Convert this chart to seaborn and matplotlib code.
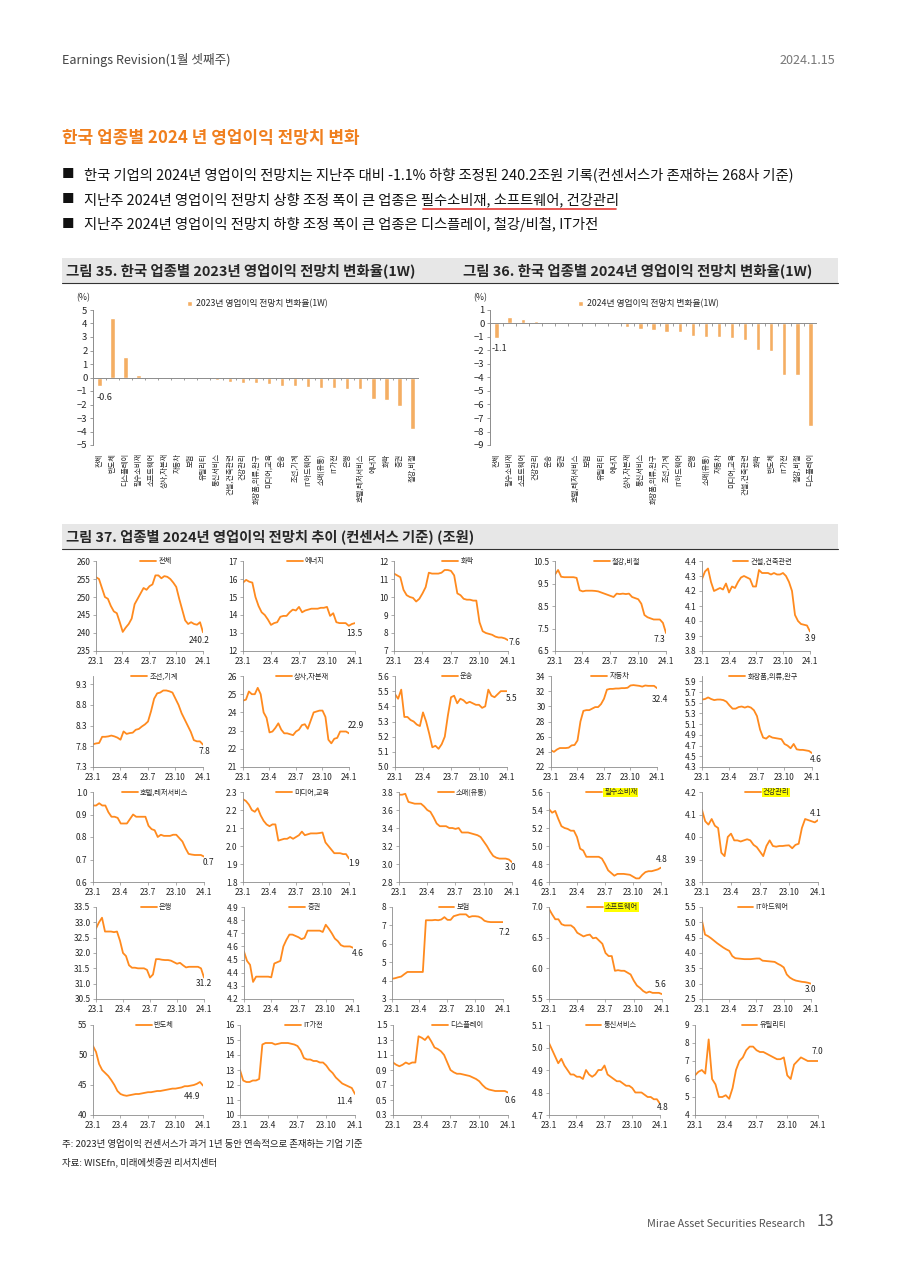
import numpy as np
import pandas as pd
import matplotlib
matplotlib.use("Agg")
import matplotlib.pyplot as plt
import seaborn as sns
from matplotlib.patches import Rectangle
from matplotlib.lines import Line2D

sns.set_theme(style="white")
plt.rcParams["font.family"] = ["Noto Sans CJK KR", "DejaVu Sans"]
plt.rcParams["axes.unicode_minus"] = True

# ----------------------------------------------------------------------
# Data
# ----------------------------------------------------------------------
cats_2023 = ["전체", "반도체", "디스플레이", "필수소비재", "소프트웨어", "상사,자본재", "자동차",
             "보험", "유틸리티", "통신서비스", "건설,건축관련", "건강관리", "화장품,의류,완구",
             "미디어,교육", "운송", "조선,기계", "IT하드웨어", "소매(유통)", "IT가전", "은행",
             "호텔,레저서비스", "에너지", "화학", "증권", "철강,비철"]
chg_2023 = [-0.6, 4.4, 1.5, 0.2, 0.0, 0.0, 0.0, 0.0, 0.0, -0.2, -0.3, -0.4, -0.4,
            -0.45, -0.6, -0.6, -0.7, -0.8, -0.8, -0.85, -0.85, -1.6, -1.7, -2.1, -3.8]

cats_2024 = ["전체", "필수소비재", "소프트웨어", "건강관리", "운송", "증권", "호텔,레저서비스",
             "보험", "유틸리티", "에너지", "상사,자본재", "통신서비스", "화장품,의류,완구",
             "조선,기계", "IT하드웨어", "은행", "소매(유통)", "자동차", "미디어,교육",
             "건설,건축관련", "화학", "반도체", "IT가전", "철강,비철", "디스플레이"]
chg_2024 = [-1.1, 0.45, 0.3, 0.2, 0.0, 0.0, 0.0, 0.0, 0.0, 0.0, -0.25, -0.4, -0.5,
            -0.6, -0.65, -0.9, -1.0, -1.0, -1.05, -1.2, -1.95, -2.05, -3.8, -3.8, -7.6]

# 2024 operating profit consensus (trillion KRW), roughly every 10 days 23.1 -> 24.1
dates = pd.date_range("2023-01-01", "2024-01-01", periods=37)

total = [255.5, 255.0, 252.5, 250.0, 249.5, 247.5, 246.0, 245.5, 243.0, 240.3, 241.5, 242.5, 244.0,
         248.0, 249.5, 251.0, 252.5, 252.0, 253.0, 253.5, 256.0, 256.0, 255.2, 255.8, 255.6, 255.0,
         254.0, 252.8, 249.5, 246.5, 243.5, 242.5, 243.0, 242.5, 242.3, 243.0, 240.2]
energy = [15.8, 15.95, 15.85, 15.8, 15.0, 14.5, 14.15, 14.0, 13.75, 13.45, 13.55, 13.6, 13.9,
          13.95, 13.95, 14.15, 14.3, 14.25, 14.45, 14.15, 14.25, 14.3, 14.35, 14.35, 14.35, 14.4,
          14.4, 14.45, 13.95, 14.1, 13.6, 13.55, 13.55, 13.55, 13.4, 13.5, 13.55]
chemical = [11.3, 11.2, 11.1, 10.4, 10.1, 10.0, 9.95, 9.75, 9.9, 10.2, 10.55, 11.35, 11.3,
            11.3, 11.3, 11.35, 11.5, 11.5, 11.45, 11.2, 10.2, 10.1, 9.9, 9.85, 9.85, 9.8,
            9.8, 8.6, 8.1, 8.0, 7.95, 7.9, 7.8, 7.75, 7.75, 7.7, 7.6]
steel = [9.9, 10.1, 9.8, 9.78, 9.78, 9.78, 9.78, 9.75, 9.2, 9.15, 9.18, 9.18, 9.18,
         9.17, 9.15, 9.1, 9.05, 9.0, 8.95, 8.9, 9.05, 9.03, 9.05, 9.03, 9.05, 8.9,
         8.85, 8.8, 8.6, 8.1, 8.0, 7.95, 7.9, 7.9, 7.9, 7.75, 7.3]
construction = [4.28, 4.33, 4.35, 4.26, 4.2, 4.21, 4.22, 4.21, 4.25, 4.19, 4.23, 4.22, 4.26,
                4.29, 4.3, 4.29, 4.28, 4.23, 4.23, 4.34, 4.32, 4.32, 4.32, 4.31, 4.32, 4.31,
                4.31, 4.32, 4.3, 4.26, 4.2, 4.04, 4.0, 3.98, 3.975, 3.97, 3.93]
shipbuilding = [7.85, 7.87, 7.88, 8.03, 8.03, 8.04, 8.06, 8.04, 8.01, 7.96, 8.16, 8.1, 8.12,
                8.13, 8.2, 8.22, 8.28, 8.33, 8.4, 8.65, 8.95, 9.08, 9.1, 9.15, 9.15, 9.13,
                9.1, 8.95, 8.8, 8.6, 8.45, 8.3, 8.15, 7.95, 7.92, 7.92, 7.84]
trading = [24.65, 24.7, 25.15, 25.0, 25.0, 25.35, 25.0, 24.0, 23.7, 22.9, 22.95, 23.15, 23.4,
           23.05, 22.85, 22.85, 22.8, 22.75, 22.95, 23.05, 23.3, 23.35, 23.1, 23.55, 24.0, 24.05,
           24.1, 24.1, 23.75, 22.5, 22.3, 22.55, 22.6, 22.95, 22.95, 22.95, 22.85]
transport = [5.48, 5.45, 5.51, 5.33, 5.33, 5.31, 5.3, 5.28, 5.27, 5.36, 5.3, 5.22, 5.13,
             5.14, 5.12, 5.15, 5.2, 5.34, 5.46, 5.47, 5.42, 5.45, 5.44, 5.42, 5.43, 5.42,
             5.41, 5.41, 5.39, 5.4, 5.51, 5.47, 5.46, 5.48, 5.5, 5.5, 5.5]
auto = [24.2, 24.0, 24.3, 24.5, 24.5, 24.5, 24.55, 24.85, 24.9, 25.5, 28.0, 29.4, 29.5,
        29.5, 29.7, 29.9, 29.9, 30.3, 31.0, 32.2, 32.3, 32.3, 32.35, 32.35, 32.4, 32.4,
        32.45, 32.75, 32.8, 32.75, 32.7, 32.6, 32.75, 32.7, 32.7, 32.7, 32.4]
cosmetics = [5.56, 5.57, 5.6, 5.57, 5.55, 5.56, 5.56, 5.55, 5.52, 5.45, 5.39, 5.39, 5.42,
             5.43, 5.41, 5.43, 5.41, 5.36, 5.25, 5.0, 4.85, 4.83, 4.88, 4.85, 4.84, 4.83,
             4.82, 4.73, 4.7, 4.65, 4.73, 4.63, 4.62, 4.62, 4.61, 4.6, 4.56]
hotel = [0.94, 0.94, 0.95, 0.94, 0.94, 0.91, 0.89, 0.89, 0.885, 0.86, 0.86, 0.86, 0.88,
         0.9, 0.89, 0.89, 0.89, 0.89, 0.85, 0.835, 0.83, 0.8, 0.81, 0.805, 0.805, 0.805,
         0.81, 0.81, 0.795, 0.78, 0.75, 0.725, 0.722, 0.72, 0.72, 0.72, 0.713]
media = [2.26, 2.25, 2.23, 2.2, 2.19, 2.21, 2.17, 2.14, 2.12, 2.11, 2.12, 2.12, 2.03,
         2.035, 2.04, 2.04, 2.05, 2.04, 2.05, 2.06, 2.08, 2.06, 2.065, 2.07, 2.07, 2.07,
         2.072, 2.075, 2.02, 2.0, 1.98, 1.96, 1.96, 1.96, 1.955, 1.955, 1.93]
retail = [3.77, 3.77, 3.78, 3.69, 3.68, 3.67, 3.67, 3.67, 3.64, 3.6, 3.58, 3.52, 3.45,
          3.42, 3.42, 3.42, 3.4, 3.4, 3.39, 3.4, 3.35, 3.35, 3.35, 3.34, 3.33, 3.32,
          3.3, 3.25, 3.2, 3.14, 3.09, 3.07, 3.06, 3.06, 3.06, 3.05, 3.02]
staples = [5.41, 5.37, 5.39, 5.3, 5.22, 5.2, 5.19, 5.17, 5.17, 5.1, 4.97, 4.95, 4.88,
           4.88, 4.88, 4.88, 4.88, 4.86, 4.8, 4.73, 4.7, 4.67, 4.69, 4.69, 4.69, 4.685,
           4.68, 4.66, 4.64, 4.64, 4.68, 4.71, 4.72, 4.72, 4.73, 4.74, 4.76]
healthcare = [4.12, 4.07, 4.055, 4.08, 4.05, 4.04, 3.93, 3.915, 4.0, 4.015, 3.985, 3.985, 3.98,
              3.985, 3.99, 3.985, 3.965, 3.955, 3.935, 3.915, 3.96, 3.985, 3.96, 3.957, 3.96, 3.96,
              3.962, 3.963, 3.95, 3.965, 3.97, 4.04, 4.08, 4.075, 4.07, 4.065, 4.075]
bank = [32.8, 33.0, 33.15, 32.7, 32.7, 32.7, 32.68, 32.7, 32.4, 32.0, 31.9, 31.6, 31.52,
        31.52, 31.5, 31.5, 31.5, 31.45, 31.2, 31.3, 31.8, 31.8, 31.78, 31.77, 31.77, 31.75,
        31.7, 31.65, 31.68, 31.6, 31.53, 31.55, 31.55, 31.55, 31.55, 31.5, 31.2]
securities = [4.56, 4.49, 4.46, 4.33, 4.37, 4.37, 4.37, 4.37, 4.37, 4.365, 4.47, 4.48, 4.49,
              4.6, 4.65, 4.69, 4.69, 4.68, 4.67, 4.655, 4.665, 4.72, 4.72, 4.72, 4.72, 4.72,
              4.71, 4.765, 4.735, 4.7, 4.66, 4.64, 4.61, 4.6, 4.6, 4.6, 4.59]
insurance = [4.1, 4.13, 4.18, 4.22, 4.35, 4.47, 4.47, 4.47, 4.47, 4.47, 4.47, 7.28, 7.28,
             7.28, 7.3, 7.28, 7.32, 7.45, 7.3, 7.3, 7.5, 7.55, 7.6, 7.6, 7.6, 7.45,
             7.5, 7.5, 7.48, 7.4, 7.25, 7.2, 7.18, 7.18, 7.18, 7.18, 7.18]
software = [6.97, 6.88, 6.8, 6.8, 6.72, 6.7, 6.7, 6.7, 6.66, 6.58, 6.55, 6.52, 6.54,
            6.55, 6.49, 6.5, 6.45, 6.4, 6.25, 6.2, 6.2, 5.96, 5.97, 5.96, 5.96, 5.93,
            5.9, 5.8, 5.72, 5.68, 5.63, 5.6, 5.62, 5.6, 5.6, 5.6, 5.58]
it_hw = [5.05, 4.6, 4.55, 4.48, 4.4, 4.32, 4.25, 4.18, 4.12, 4.07, 3.9, 3.83, 3.82,
         3.81, 3.8, 3.8, 3.8, 3.81, 3.82, 3.82, 3.75, 3.74, 3.73, 3.72, 3.71, 3.65,
         3.6, 3.53, 3.3, 3.2, 3.14, 3.1, 3.08, 3.06, 3.05, 3.03, 3.0]
semis = [51.5, 50.5, 48.5, 47.5, 47.0, 46.5, 45.8, 45.0, 44.0, 43.5, 43.3, 43.2, 43.3,
         43.4, 43.5, 43.5, 43.6, 43.7, 43.8, 43.8, 43.9, 44.0, 44.0, 44.1, 44.2, 44.3,
         44.4, 44.4, 44.5, 44.6, 44.8, 44.8, 44.9, 45.0, 45.2, 45.5, 44.9]
it_appl = [13.0, 12.3, 12.2, 12.2, 12.3, 12.3, 12.4, 14.7, 14.8, 14.8, 14.8, 14.7, 14.75,
           14.8, 14.8, 14.8, 14.75, 14.7, 14.6, 14.3, 13.8, 13.7, 13.7, 13.6, 13.6, 13.5,
           13.5, 13.3, 13.0, 12.8, 12.5, 12.3, 12.1, 12.0, 11.9, 11.8, 11.4]
display = [1.0, 0.97, 0.95, 0.97, 1.0, 0.98, 1.0, 1.0, 1.35, 1.33, 1.3, 1.35, 1.28,
           1.2, 1.18, 1.15, 1.1, 1.0, 0.9, 0.87, 0.85, 0.85, 0.84, 0.83, 0.82, 0.8,
           0.78, 0.75, 0.7, 0.66, 0.64, 0.63, 0.62, 0.62, 0.62, 0.62, 0.6]
telecom = [5.02, 4.99, 4.96, 4.93, 4.95, 4.92, 4.9, 4.88, 4.88, 4.87, 4.87, 4.86, 4.9,
           4.88, 4.87, 4.88, 4.9, 4.9, 4.92, 4.88, 4.87, 4.86, 4.85, 4.85, 4.84, 4.83,
           4.83, 4.82, 4.8, 4.8, 4.8, 4.79, 4.78, 4.78, 4.77, 4.77, 4.75]
utility = [6.2, 6.4, 6.5, 6.3, 8.2, 6.0, 5.7, 5.0, 5.0, 5.1, 4.9, 5.5, 6.5,
           7.0, 7.2, 7.6, 7.8, 7.8, 7.6, 7.5, 7.5, 7.4, 7.3, 7.2, 7.1, 7.1,
           7.2, 6.2, 6.0, 6.8, 7.0, 7.2, 7.1, 7.0, 7.0, 7.0, 7.0]

# name, series, y-min, y-max, tick step, end label, label offset (px), highlighted
panels = [
    ("전체", total, 235, 260, 5, "240.2", (-4, -8), False),
    ("에너지", energy, 12, 17, 1, "13.5", (-1, -10), False),
    ("화학", chemical, 7, 12, 1, "7.6", (6, -2), False),
    ("철강,비철", steel, 6.5, 10.5, 1, "7.3", (-7, -7), False),
    ("건설,건축관련", construction, 3.8, 4.4, 0.1, "3.9", (1, -7), False),
    ("조선,기계", shipbuilding, 7.3, 9.5, 0.5, "7.8", (1, -7), False),
    ("상사,자본재", trading, 21, 26, 1, "22.9", (7, 8), False),
    ("운송", transport, 5.0, 5.6, 0.1, "5.5", (5, -7), False),
    ("자동차", auto, 22, 34, 2, "32.4", (3, -11), False),
    ("화장품,의류,완구", cosmetics, 4.3, 6.0, 0.2, "4.6", (4, -6), False),
    ("호텔,레저서비스", hotel, 0.6, 1.0, 0.1, "0.7", (4, -6), False),
    ("미디어,교육", media, 1.8, 2.3, 0.1, "1.9", (5, -5), False),
    ("소매(유통)", retail, 2.8, 3.8, 0.2, "3.0", (-1, -5), False),
    ("필수소비재", staples, 4.6, 5.6, 0.2, "4.8", (1, 8), True),
    ("건강관리", healthcare, 3.8, 4.2, 0.1, "4.1", (-2, 7), True),
    ("은행", bank, 30.5, 33.5, 0.5, "31.2", (0, -6), False),
    ("증권", securities, 4.2, 4.9, 0.1, "4.6", (5, -6), False),
    ("보험", insurance, 3, 8, 1, "7.2", (1, -10), False),
    ("소프트웨어", software, 5.5, 7.0, 0.5, "5.6", (-1, 10), True),
    ("IT하드웨어", it_hw, 2.5, 5.5, 0.5, "3.0", (0, -6), False),
    ("반도체", semis, 40, 55, 5, "44.9", (-11, -11), False),
    ("IT가전", it_appl, 10, 16, 1, "11.4", (-11, -7), False),
    ("디스플레이", display, 0.3, 1.5, 0.2, "0.6", (2, -8), False),
    ("통신서비스", telecom, 4.7, 5.1, 0.1, "4.8", (3, -4), False),
    ("유틸리티", utility, 4, 9, 1, "7.0", (-1, 10), False),
]

# ----------------------------------------------------------------------
# Layout (pixel coordinates on a 900 x 1273 page)
# ----------------------------------------------------------------------
W, H = 900, 1273
LINE = "#FF8A1E"
BAR = "#F4AE63"
AXC = "#8c8c8c"
ORANGE = "#F07F1E"

row_y = [(561, 651), (676, 767), (792, 882), (907, 999), (1025, 1115)]
col_x = [
    [(96, 203), (243, 355), (394, 508), (555, 666), (702, 810)],
    [(93, 203), (243, 349), (395, 507), (551, 657), (702, 812)],
    [(93, 204), (243, 349), (399, 512), (549, 661), (702, 818)],
    [(96, 204), (244, 353), (392, 503), (549, 662), (702, 811)],
    [(93, 203), (240, 355), (393, 508), (549, 660), (695, 818)],
]


def rect(x0, y0, x1, y1):
    return [x0 / W, 1 - y1 / H, (x1 - x0) / W, (y1 - y0) / H]


fig = plt.figure(figsize=(9, 12.73), dpi=100)
fig.patch.set_facecolor("white")


def ftext(x, y, s, **kw):
    kw.setdefault("va", "center")
    fig.text(x / W, 1 - y / H, s, **kw)


# header / footer
ftext(62, 60, "Earnings Revision(1월 셋째주)", fontsize=9.1, color="#444444")
ftext(835, 60, "2024.1.15", fontsize=9.1, color="#777777", ha="right")
ftext(62, 138, "한국 업종별 2024 년 영업이익 전망치 변화", fontsize=12.2, color=ORANGE, fontweight="bold")
bullets = [
    "한국 기업의 2024년 영업이익 전망치는 지난주 대비 -1.1% 하향 조정된 240.2조원 기록(컨센서스가 존재하는 268사 기준)",
    "지난주 2024년 영업이익 전망치 상향 조정 폭이 큰 업종은 필수소비재, 소프트웨어, 건강관리",
    "지난주 2024년 영업이익 전망치 하향 조정 폭이 큰 업종은 디스플레이, 철강/비철, IT가전",
]
for i, b in enumerate(bullets):
    y = 175 + i * 24.5
    ftext(62, y, "■", fontsize=9, color="#111111")
    ftext(84, y, b, fontsize=10.3, color="#111111")
fig.add_artist(Line2D([423 / W, 616 / W], [1 - 209 / H] * 2, color="#E53935", lw=1.2))

for y0 in (258, 524):
    fig.add_artist(Rectangle((62 / W, 1 - (y0 + 25) / H), 776 / W, 25 / H,
                             transform=fig.transFigure, facecolor="#E7E7E7", edgecolor="none"))
    fig.add_artist(Line2D([62 / W, 838 / W], [1 - (y0 + 25) / H] * 2, color="#333333", lw=0.8))
ftext(66, 271, "그림 35. 한국 업종별 2023년 영업이익 전망치 변화율(1W)", fontsize=10.4, fontweight="bold")
ftext(463, 271, "그림 36. 한국 업종별 2024년 영업이익 전망치 변화율(1W)", fontsize=10.4, fontweight="bold")
ftext(66, 537, "그림 37. 업종별 2024년 영업이익 전망치 추이 (컨센서스 기준) (조원)", fontsize=10.3, fontweight="bold")

ftext(62, 1145, "주: 2023년 영업이익 컨센서스가 과거 1년 동안 연속적으로 존재하는 기업 기준", fontsize=6.8, color="#222222")
ftext(62, 1162, "자료: WISEfn, 미래에셋증권 리서치센터", fontsize=6.8, color="#222222")
ftext(805, 1224, "Mirae Asset Securities Research", fontsize=7.8, color="#555555", ha="right")
ftext(834, 1222, "13", fontsize=11.5, color="#555555", ha="right")


# ----------------------------------------------------------------------
# Bar charts (그림 35, 36)
# ----------------------------------------------------------------------
def draw_bars(box, cats, vals, lo, hi, label, leg_x, note, note_off, pct_x):
    ax = fig.add_axes(rect(*box))
    sns.barplot(x=cats, y=vals, ax=ax, color=BAR, width=0.33, saturation=1, label=label)
    ax.set_xlim(-0.5, len(cats) - 0.5)
    ax.set_ylim(lo, hi)
    ax.set_yticks(range(lo, hi + 1))
    ax.axhline(0, color=AXC, lw=0.7)
    ax.vlines(np.arange(len(cats) + 1) - 0.5, 0, -0.2, color=AXC, lw=0.6)
    for s in ("top", "right", "bottom"):
        ax.spines[s].set_visible(False)
    ax.spines["left"].set_color(AXC)
    ax.spines["left"].set_linewidth(0.7)
    ax.set_xlabel("")
    ax.set_ylabel("")
    ax.tick_params(axis="x", length=0, labelsize=5.2, pad=6, labelrotation=90)
    ax.tick_params(axis="y", length=2, width=0.6, color=AXC, labelsize=6.8, pad=2, left=True)
    ax.legend(loc="center left", bbox_to_anchor=(leg_x / W, 1 - 304 / H), bbox_transform=fig.transFigure,
              frameon=False, fontsize=6.3, handlelength=0.6, handleheight=0.6, handletextpad=0.4,
              borderaxespad=0, borderpad=0)
    ax.annotate(note, xy=(0, vals[0]), xytext=note_off, textcoords="offset pixels",
                ha="center", va="center", fontsize=6.6, annotation_clip=False)
    ftext(pct_x, 298, "(%)", fontsize=6.3, ha="center")


draw_bars((93, 310, 419, 445), cats_2023, chg_2023, -5, 5, "2023년 영업이익 전망치 변화율(1W)",
          187, "-0.6", (5, -12), 83)
draw_bars((490, 310, 817, 445), cats_2024, chg_2024, -9, 1, "2024년 영업이익 전망치 변화율(1W)",
          578, "-1.1", (3, -10), 480)

# ----------------------------------------------------------------------
# Small multiples (그림 37)
# ----------------------------------------------------------------------
tick_dates = pd.to_datetime(["2023-01-01", "2023-04-01", "2023-07-01", "2023-10-01", "2024-01-01"])
tick_labels = ["23.1", "23.4", "23.7", "23.10", "24.1"]

for k, (name, vals, lo, hi, step, end, off, hl) in enumerate(panels):
    r, c = divmod(k, 5)
    top, bot = row_y[r]
    left, right = col_x[r][c]
    ax = fig.add_axes(rect(left, top, right, bot))
    sns.lineplot(x=dates, y=vals, ax=ax, color=LINE, linewidth=1.3, label=name)
    ax.set_xlim(dates[0], dates[-1])
    ax.set_ylim(lo, hi)
    ticks = np.arange(lo, hi + 1e-9, step)
    dec = 0 if float(lo).is_integer() and float(step).is_integer() else 1
    ax.set_yticks(ticks)
    ax.set_yticklabels([f"{t:.{dec}f}" for t in ticks])
    ax.set_xticks(tick_dates)
    ax.set_xticklabels(tick_labels)
    for s in ("top", "right"):
        ax.spines[s].set_visible(False)
    for s in ("left", "bottom"):
        ax.spines[s].set_color(AXC)
        ax.spines[s].set_linewidth(0.6)
    ax.tick_params(labelsize=6, length=2, width=0.5, color=AXC, pad=2, left=True, bottom=True)
    ax.set_xlabel("")
    ax.set_ylabel("")
    leg = ax.legend(loc="upper center", bbox_to_anchor=(0.56, 1.04), frameon=False, fontsize=5.2,
                    handlelength=2.2, handletextpad=0.3, borderaxespad=0, borderpad=0)
    if hl:
        leg.get_texts()[0].set_bbox(dict(facecolor="#FFFF00", edgecolor="none", pad=0.6))
    ax.annotate(end, xy=(dates[-1], vals[-1]), xytext=off, textcoords="offset pixels",
                ha="center", va="center", fontsize=6, color="#222222", annotation_clip=False)

fig.savefig("out.png", dpi=100)
